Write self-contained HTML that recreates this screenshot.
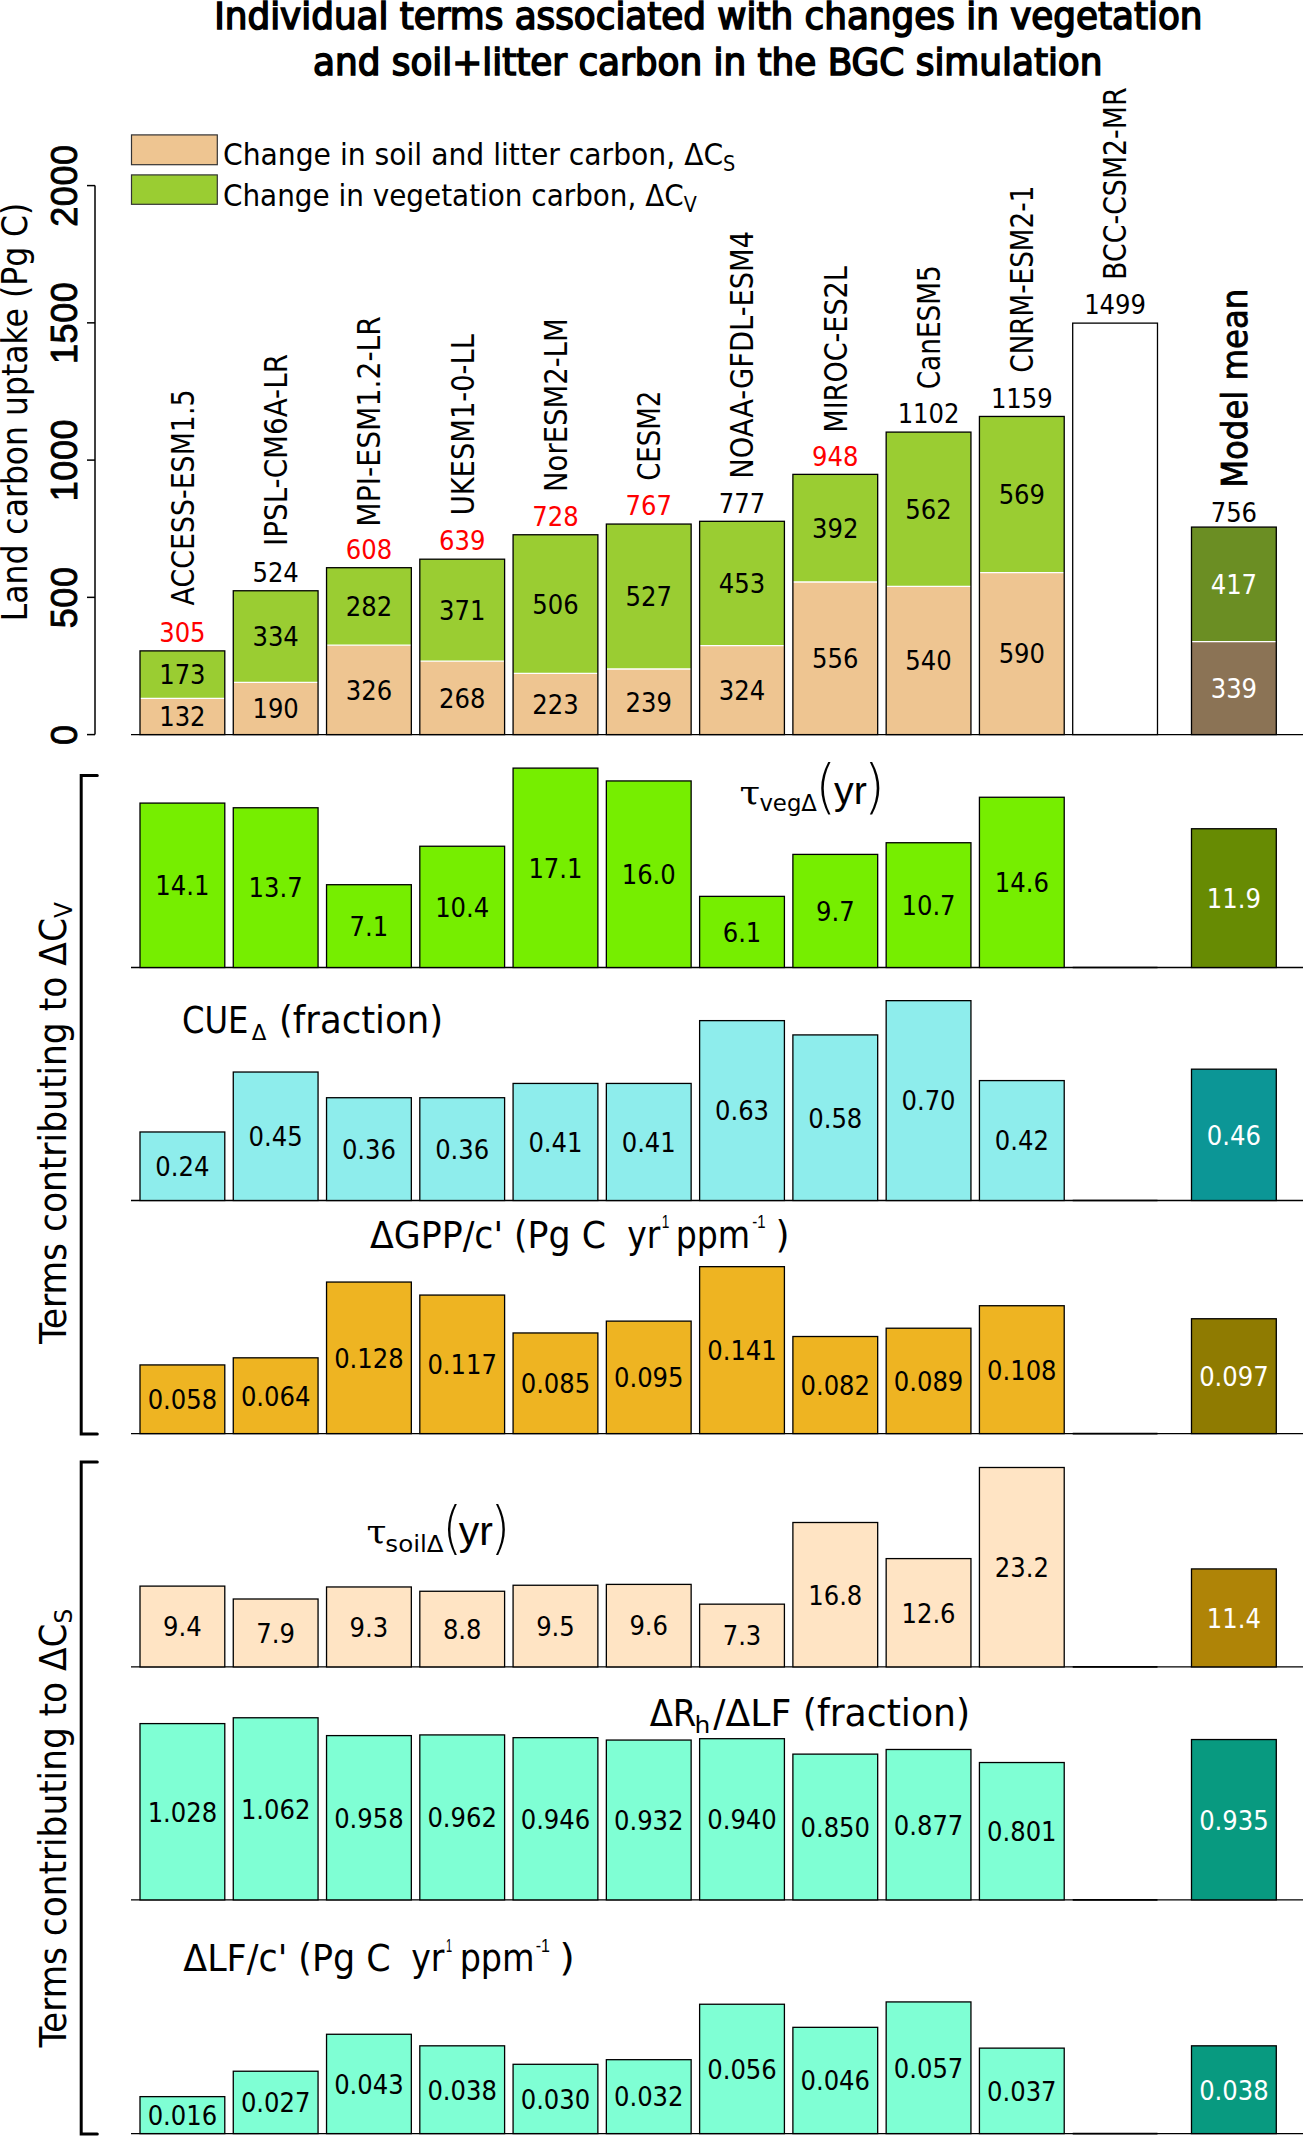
<!DOCTYPE html>
<html><head><meta charset="utf-8"><title>Individual terms associated with changes in vegetation and soil+litter carbon</title>
<style>html,body{margin:0;padding:0;background:#fff;} svg{display:block;}</style></head>
<body><svg width="1303" height="2136" viewBox="0 0 1303 2136">
<rect x="0" y="0" width="1303" height="2136" fill="#fff"/>
<text id="title1" transform="translate(214.22,28.90) scale(1,1)" x="0" y="0" fill="#000" style="font-family:'DejaVu Sans Condensed','DejaVu Sans',sans-serif;font-stretch:condensed;font-size:37.6px;font-weight:normal;stroke:#000;stroke-width:1.5px" textLength="988.31" lengthAdjust="spacingAndGlyphs">Individual terms associated with changes in vegetation</text>
<text id="title2" transform="translate(312.98,75.10) scale(1,1)" x="0" y="0" fill="#000" style="font-family:'DejaVu Sans Condensed','DejaVu Sans',sans-serif;font-stretch:condensed;font-size:37.6px;font-weight:normal;stroke:#000;stroke-width:1.5px" textLength="789.52" lengthAdjust="spacingAndGlyphs">and soil+litter carbon in the BGC simulation</text>
<line x1="131.00" y1="734.60" x2="1303.00" y2="734.60" stroke="#000" stroke-width="1.3" stroke-linecap="butt"/>
<rect x="140.00" y="698.37" width="84.79" height="36.23" fill="#EEC591"/>
<rect x="140.00" y="650.88" width="84.79" height="47.49" fill="#9ACD32"/>
<line x1="140.00" y1="698.37" x2="224.79" y2="698.37" stroke="#fff" stroke-width="1.3" stroke-linecap="butt"/>
<rect x="140.00" y="650.88" width="84.79" height="83.72" fill="none" stroke="#000" stroke-width="1.3"/>
<text x="182.40" y="726.32" text-anchor="middle" fill="#000" style="font-family:'DejaVu Sans Condensed','DejaVu Sans',sans-serif;font-stretch:condensed;font-size:27.0px" textLength="46.36" lengthAdjust="spacingAndGlyphs">132</text>
<text x="182.40" y="684.46" text-anchor="middle" fill="#000" style="font-family:'DejaVu Sans Condensed','DejaVu Sans',sans-serif;font-stretch:condensed;font-size:27.0px" textLength="46.36" lengthAdjust="spacingAndGlyphs">173</text>
<text x="182.40" y="642.18" text-anchor="middle" fill="#FF0000" style="font-family:'DejaVu Sans Condensed','DejaVu Sans',sans-serif;font-stretch:condensed;font-size:27.0px" textLength="46.36" lengthAdjust="spacingAndGlyphs">305</text>
<rect x="233.27" y="682.45" width="84.79" height="52.15" fill="#EEC591"/>
<rect x="233.27" y="590.76" width="84.79" height="91.68" fill="#9ACD32"/>
<line x1="233.27" y1="682.45" x2="318.06" y2="682.45" stroke="#fff" stroke-width="1.3" stroke-linecap="butt"/>
<rect x="233.27" y="590.76" width="84.79" height="143.84" fill="none" stroke="#000" stroke-width="1.3"/>
<text x="275.66" y="718.36" text-anchor="middle" fill="#000" style="font-family:'DejaVu Sans Condensed','DejaVu Sans',sans-serif;font-stretch:condensed;font-size:27.0px" textLength="46.36" lengthAdjust="spacingAndGlyphs">190</text>
<text x="275.66" y="646.44" text-anchor="middle" fill="#000" style="font-family:'DejaVu Sans Condensed','DejaVu Sans',sans-serif;font-stretch:condensed;font-size:27.0px" textLength="46.36" lengthAdjust="spacingAndGlyphs">334</text>
<text x="275.66" y="582.06" text-anchor="middle" fill="#000" style="font-family:'DejaVu Sans Condensed','DejaVu Sans',sans-serif;font-stretch:condensed;font-size:27.0px" textLength="46.36" lengthAdjust="spacingAndGlyphs">524</text>
<rect x="326.54" y="645.11" width="84.79" height="89.49" fill="#EEC591"/>
<rect x="326.54" y="567.70" width="84.79" height="77.41" fill="#9ACD32"/>
<line x1="326.54" y1="645.11" x2="411.33" y2="645.11" stroke="#fff" stroke-width="1.3" stroke-linecap="butt"/>
<rect x="326.54" y="567.70" width="84.79" height="166.90" fill="none" stroke="#000" stroke-width="1.3"/>
<text x="368.93" y="699.70" text-anchor="middle" fill="#000" style="font-family:'DejaVu Sans Condensed','DejaVu Sans',sans-serif;font-stretch:condensed;font-size:27.0px" textLength="46.36" lengthAdjust="spacingAndGlyphs">326</text>
<text x="368.93" y="616.25" text-anchor="middle" fill="#000" style="font-family:'DejaVu Sans Condensed','DejaVu Sans',sans-serif;font-stretch:condensed;font-size:27.0px" textLength="46.36" lengthAdjust="spacingAndGlyphs">282</text>
<text x="368.93" y="559.00" text-anchor="middle" fill="#FF0000" style="font-family:'DejaVu Sans Condensed','DejaVu Sans',sans-serif;font-stretch:condensed;font-size:27.0px" textLength="46.36" lengthAdjust="spacingAndGlyphs">608</text>
<rect x="419.81" y="661.03" width="84.79" height="73.57" fill="#EEC591"/>
<rect x="419.81" y="559.19" width="84.79" height="101.84" fill="#9ACD32"/>
<line x1="419.81" y1="661.03" x2="504.60" y2="661.03" stroke="#fff" stroke-width="1.3" stroke-linecap="butt"/>
<rect x="419.81" y="559.19" width="84.79" height="175.41" fill="none" stroke="#000" stroke-width="1.3"/>
<text x="462.20" y="707.66" text-anchor="middle" fill="#000" style="font-family:'DejaVu Sans Condensed','DejaVu Sans',sans-serif;font-stretch:condensed;font-size:27.0px" textLength="46.36" lengthAdjust="spacingAndGlyphs">268</text>
<text x="462.20" y="619.96" text-anchor="middle" fill="#000" style="font-family:'DejaVu Sans Condensed','DejaVu Sans',sans-serif;font-stretch:condensed;font-size:27.0px" textLength="46.36" lengthAdjust="spacingAndGlyphs">371</text>
<text x="462.20" y="550.49" text-anchor="middle" fill="#FF0000" style="font-family:'DejaVu Sans Condensed','DejaVu Sans',sans-serif;font-stretch:condensed;font-size:27.0px" textLength="46.36" lengthAdjust="spacingAndGlyphs">639</text>
<rect x="513.08" y="673.39" width="84.79" height="61.21" fill="#EEC591"/>
<rect x="513.08" y="534.76" width="84.79" height="138.62" fill="#9ACD32"/>
<line x1="513.08" y1="673.39" x2="597.87" y2="673.39" stroke="#fff" stroke-width="1.3" stroke-linecap="butt"/>
<rect x="513.08" y="534.76" width="84.79" height="199.84" fill="none" stroke="#000" stroke-width="1.3"/>
<text x="555.47" y="713.83" text-anchor="middle" fill="#000" style="font-family:'DejaVu Sans Condensed','DejaVu Sans',sans-serif;font-stretch:condensed;font-size:27.0px" textLength="46.36" lengthAdjust="spacingAndGlyphs">223</text>
<text x="555.47" y="613.92" text-anchor="middle" fill="#000" style="font-family:'DejaVu Sans Condensed','DejaVu Sans',sans-serif;font-stretch:condensed;font-size:27.0px" textLength="46.36" lengthAdjust="spacingAndGlyphs">506</text>
<text x="555.47" y="526.06" text-anchor="middle" fill="#FF0000" style="font-family:'DejaVu Sans Condensed','DejaVu Sans',sans-serif;font-stretch:condensed;font-size:27.0px" textLength="46.36" lengthAdjust="spacingAndGlyphs">728</text>
<rect x="606.35" y="668.99" width="84.79" height="65.61" fill="#EEC591"/>
<rect x="606.35" y="524.06" width="84.79" height="144.94" fill="#9ACD32"/>
<line x1="606.35" y1="668.99" x2="691.14" y2="668.99" stroke="#fff" stroke-width="1.3" stroke-linecap="butt"/>
<rect x="606.35" y="524.06" width="84.79" height="210.54" fill="none" stroke="#000" stroke-width="1.3"/>
<text x="648.74" y="711.64" text-anchor="middle" fill="#000" style="font-family:'DejaVu Sans Condensed','DejaVu Sans',sans-serif;font-stretch:condensed;font-size:27.0px" textLength="46.36" lengthAdjust="spacingAndGlyphs">239</text>
<text x="648.74" y="606.37" text-anchor="middle" fill="#000" style="font-family:'DejaVu Sans Condensed','DejaVu Sans',sans-serif;font-stretch:condensed;font-size:27.0px" textLength="46.36" lengthAdjust="spacingAndGlyphs">527</text>
<text x="648.74" y="515.36" text-anchor="middle" fill="#FF0000" style="font-family:'DejaVu Sans Condensed','DejaVu Sans',sans-serif;font-stretch:condensed;font-size:27.0px" textLength="46.36" lengthAdjust="spacingAndGlyphs">767</text>
<rect x="699.62" y="645.66" width="84.79" height="88.94" fill="#EEC591"/>
<rect x="699.62" y="521.31" width="84.79" height="124.35" fill="#9ACD32"/>
<line x1="699.62" y1="645.66" x2="784.41" y2="645.66" stroke="#fff" stroke-width="1.3" stroke-linecap="butt"/>
<rect x="699.62" y="521.31" width="84.79" height="213.29" fill="none" stroke="#000" stroke-width="1.3"/>
<text x="742.01" y="699.97" text-anchor="middle" fill="#000" style="font-family:'DejaVu Sans Condensed','DejaVu Sans',sans-serif;font-stretch:condensed;font-size:27.0px" textLength="46.36" lengthAdjust="spacingAndGlyphs">324</text>
<text x="742.01" y="593.33" text-anchor="middle" fill="#000" style="font-family:'DejaVu Sans Condensed','DejaVu Sans',sans-serif;font-stretch:condensed;font-size:27.0px" textLength="46.36" lengthAdjust="spacingAndGlyphs">453</text>
<text x="742.01" y="512.61" text-anchor="middle" fill="#000" style="font-family:'DejaVu Sans Condensed','DejaVu Sans',sans-serif;font-stretch:condensed;font-size:27.0px" textLength="46.36" lengthAdjust="spacingAndGlyphs">777</text>
<rect x="792.89" y="581.98" width="84.79" height="152.62" fill="#EEC591"/>
<rect x="792.89" y="474.37" width="84.79" height="107.60" fill="#9ACD32"/>
<line x1="792.89" y1="581.98" x2="877.68" y2="581.98" stroke="#fff" stroke-width="1.3" stroke-linecap="butt"/>
<rect x="792.89" y="474.37" width="84.79" height="260.23" fill="none" stroke="#000" stroke-width="1.3"/>
<text x="835.28" y="668.13" text-anchor="middle" fill="#000" style="font-family:'DejaVu Sans Condensed','DejaVu Sans',sans-serif;font-stretch:condensed;font-size:27.0px" textLength="46.36" lengthAdjust="spacingAndGlyphs">556</text>
<text x="835.28" y="538.02" text-anchor="middle" fill="#000" style="font-family:'DejaVu Sans Condensed','DejaVu Sans',sans-serif;font-stretch:condensed;font-size:27.0px" textLength="46.36" lengthAdjust="spacingAndGlyphs">392</text>
<text x="835.28" y="465.67" text-anchor="middle" fill="#FF0000" style="font-family:'DejaVu Sans Condensed','DejaVu Sans',sans-serif;font-stretch:condensed;font-size:27.0px" textLength="46.36" lengthAdjust="spacingAndGlyphs">948</text>
<rect x="886.16" y="586.37" width="84.79" height="148.23" fill="#EEC591"/>
<rect x="886.16" y="432.10" width="84.79" height="154.27" fill="#9ACD32"/>
<line x1="886.16" y1="586.37" x2="970.95" y2="586.37" stroke="#fff" stroke-width="1.3" stroke-linecap="butt"/>
<rect x="886.16" y="432.10" width="84.79" height="302.50" fill="none" stroke="#000" stroke-width="1.3"/>
<text x="928.55" y="670.33" text-anchor="middle" fill="#000" style="font-family:'DejaVu Sans Condensed','DejaVu Sans',sans-serif;font-stretch:condensed;font-size:27.0px" textLength="46.36" lengthAdjust="spacingAndGlyphs">540</text>
<text x="928.55" y="519.08" text-anchor="middle" fill="#000" style="font-family:'DejaVu Sans Condensed','DejaVu Sans',sans-serif;font-stretch:condensed;font-size:27.0px" textLength="46.36" lengthAdjust="spacingAndGlyphs">562</text>
<text x="928.55" y="423.40" text-anchor="middle" fill="#000" style="font-family:'DejaVu Sans Condensed','DejaVu Sans',sans-serif;font-stretch:condensed;font-size:27.0px" textLength="61.81" lengthAdjust="spacingAndGlyphs">1102</text>
<rect x="979.43" y="572.64" width="84.79" height="161.96" fill="#EEC591"/>
<rect x="979.43" y="416.45" width="84.79" height="156.19" fill="#9ACD32"/>
<line x1="979.43" y1="572.64" x2="1064.22" y2="572.64" stroke="#fff" stroke-width="1.3" stroke-linecap="butt"/>
<rect x="979.43" y="416.45" width="84.79" height="318.15" fill="none" stroke="#000" stroke-width="1.3"/>
<text x="1021.82" y="663.46" text-anchor="middle" fill="#000" style="font-family:'DejaVu Sans Condensed','DejaVu Sans',sans-serif;font-stretch:condensed;font-size:27.0px" textLength="46.36" lengthAdjust="spacingAndGlyphs">590</text>
<text x="1021.82" y="504.39" text-anchor="middle" fill="#000" style="font-family:'DejaVu Sans Condensed','DejaVu Sans',sans-serif;font-stretch:condensed;font-size:27.0px" textLength="46.36" lengthAdjust="spacingAndGlyphs">569</text>
<text x="1021.82" y="407.75" text-anchor="middle" fill="#000" style="font-family:'DejaVu Sans Condensed','DejaVu Sans',sans-serif;font-stretch:condensed;font-size:27.0px" textLength="61.81" lengthAdjust="spacingAndGlyphs">1159</text>
<rect x="1072.70" y="323.12" width="84.79" height="411.48" fill="#fff" stroke="#000" stroke-width="1.3"/>
<text x="1115.09" y="314.42" text-anchor="middle" fill="#000" style="font-family:'DejaVu Sans Condensed','DejaVu Sans',sans-serif;font-stretch:condensed;font-size:27.0px" textLength="61.81" lengthAdjust="spacingAndGlyphs">1499</text>
<rect x="1191.50" y="641.54" width="84.79" height="93.06" fill="#8B7355"/>
<rect x="1191.50" y="527.08" width="84.79" height="114.47" fill="#6B8E23"/>
<line x1="1191.50" y1="641.54" x2="1276.29" y2="641.54" stroke="#fff" stroke-width="1.3" stroke-linecap="butt"/>
<rect x="1191.50" y="527.08" width="84.79" height="207.52" fill="none" stroke="#000" stroke-width="1.3"/>
<text x="1233.89" y="697.91" text-anchor="middle" fill="#fff" style="font-family:'DejaVu Sans Condensed','DejaVu Sans',sans-serif;font-stretch:condensed;font-size:27.0px" textLength="46.36" lengthAdjust="spacingAndGlyphs">339</text>
<text x="1233.89" y="594.15" text-anchor="middle" fill="#fff" style="font-family:'DejaVu Sans Condensed','DejaVu Sans',sans-serif;font-stretch:condensed;font-size:27.0px" textLength="46.36" lengthAdjust="spacingAndGlyphs">417</text>
<text x="1233.89" y="522.48" text-anchor="middle" fill="#000" style="font-family:'DejaVu Sans Condensed','DejaVu Sans',sans-serif;font-stretch:condensed;font-size:27.0px" textLength="46.36" lengthAdjust="spacingAndGlyphs">756</text>
<text id="name0" transform="translate(193.73,605.39) rotate(-90) scale(1,1)" x="0" y="0" fill="#000" style="font-family:'DejaVu Sans Condensed','DejaVu Sans',sans-serif;font-stretch:condensed;font-size:31.1px;font-weight:normal" textLength="215.88" lengthAdjust="spacingAndGlyphs">ACCESS-ESM1.5</text>
<text id="name1" transform="translate(287.00,545.98) rotate(-90) scale(1,1)" x="0" y="0" fill="#000" style="font-family:'DejaVu Sans Condensed','DejaVu Sans',sans-serif;font-stretch:condensed;font-size:31.1px;font-weight:normal" textLength="191.94" lengthAdjust="spacingAndGlyphs">IPSL-CM6A-LR</text>
<text id="name2" transform="translate(380.27,526.63) rotate(-90) scale(1,1)" x="0" y="0" fill="#000" style="font-family:'DejaVu Sans Condensed','DejaVu Sans',sans-serif;font-stretch:condensed;font-size:31.1px;font-weight:normal" textLength="210.59" lengthAdjust="spacingAndGlyphs">MPI-ESM1.2-LR</text>
<text id="name3" transform="translate(473.54,515.35) rotate(-90) scale(1,1)" x="0" y="0" fill="#000" style="font-family:'DejaVu Sans Condensed','DejaVu Sans',sans-serif;font-stretch:condensed;font-size:31.1px;font-weight:normal" textLength="181.26" lengthAdjust="spacingAndGlyphs">UKESM1-0-LL</text>
<text id="name4" transform="translate(566.81,491.96) rotate(-90) scale(1,1)" x="0" y="0" fill="#000" style="font-family:'DejaVu Sans Condensed','DejaVu Sans',sans-serif;font-stretch:condensed;font-size:31.1px;font-weight:normal" textLength="173.57" lengthAdjust="spacingAndGlyphs">NorESM2-LM</text>
<text id="name5" transform="translate(660.08,480.87) rotate(-90) scale(1,1)" x="0" y="0" fill="#000" style="font-family:'DejaVu Sans Condensed','DejaVu Sans',sans-serif;font-stretch:condensed;font-size:31.1px;font-weight:normal" textLength="90.08" lengthAdjust="spacingAndGlyphs">CESM2</text>
<text id="name6" transform="translate(753.35,478.73) rotate(-90) scale(1,1)" x="0" y="0" fill="#000" style="font-family:'DejaVu Sans Condensed','DejaVu Sans',sans-serif;font-stretch:condensed;font-size:31.1px;font-weight:normal" textLength="247.75" lengthAdjust="spacingAndGlyphs">NOAA-GFDL-ESM4</text>
<text id="name7" transform="translate(846.62,432.71) rotate(-90) scale(1,1)" x="0" y="0" fill="#000" style="font-family:'DejaVu Sans Condensed','DejaVu Sans',sans-serif;font-stretch:condensed;font-size:31.1px;font-weight:normal" textLength="166.60" lengthAdjust="spacingAndGlyphs">MIROC-ES2L</text>
<text id="name8" transform="translate(939.89,389.28) rotate(-90) scale(1,1)" x="0" y="0" fill="#000" style="font-family:'DejaVu Sans Condensed','DejaVu Sans',sans-serif;font-stretch:condensed;font-size:31.1px;font-weight:normal" textLength="124.01" lengthAdjust="spacingAndGlyphs">CanESM5</text>
<text id="name9" transform="translate(1033.16,372.70) rotate(-90) scale(1,1)" x="0" y="0" fill="#000" style="font-family:'DejaVu Sans Condensed','DejaVu Sans',sans-serif;font-stretch:condensed;font-size:31.1px;font-weight:normal" textLength="187.06" lengthAdjust="spacingAndGlyphs">CNRM-ESM2-1</text>
<text id="name10" transform="translate(1126.43,279.89) rotate(-90) scale(1,1)" x="0" y="0" fill="#000" style="font-family:'DejaVu Sans Condensed','DejaVu Sans',sans-serif;font-stretch:condensed;font-size:31.1px;font-weight:normal" textLength="192.44" lengthAdjust="spacingAndGlyphs">BCC-CSM2-MR</text>
<text id="name11" transform="translate(1246.70,487.84) rotate(-90) scale(1,1)" x="0" y="0" fill="#000" stroke="#000" stroke-width="0.8" style="font-family:'DejaVu Sans Condensed','DejaVu Sans',sans-serif;font-stretch:condensed;font-size:35.8px;font-weight:normal" textLength="199.16" lengthAdjust="spacingAndGlyphs">Model mean</text>
<line x1="95.00" y1="185.60" x2="95.00" y2="734.60" stroke="#000" stroke-width="1.5" stroke-linecap="butt"/>
<line x1="87.00" y1="734.60" x2="95.00" y2="734.60" stroke="#000" stroke-width="1.5" stroke-linecap="butt"/>
<text transform="translate(77.2,734.60) rotate(-90)" x="0" y="0" text-anchor="middle" stroke="#000" stroke-width="0.9" style="font-family:'Liberation Sans',Arial,sans-serif;font-size:36px;letter-spacing:0.6px" textLength="20.62" lengthAdjust="spacingAndGlyphs">0</text>
<line x1="87.00" y1="597.35" x2="95.00" y2="597.35" stroke="#000" stroke-width="1.5" stroke-linecap="butt"/>
<text transform="translate(77.2,597.35) rotate(-90)" x="0" y="0" text-anchor="middle" stroke="#000" stroke-width="0.9" style="font-family:'Liberation Sans',Arial,sans-serif;font-size:36px;letter-spacing:0.6px" textLength="61.88" lengthAdjust="spacingAndGlyphs">500</text>
<line x1="87.00" y1="460.10" x2="95.00" y2="460.10" stroke="#000" stroke-width="1.5" stroke-linecap="butt"/>
<text transform="translate(77.2,460.10) rotate(-90)" x="0" y="0" text-anchor="middle" stroke="#000" stroke-width="0.9" style="font-family:'Liberation Sans',Arial,sans-serif;font-size:36px;letter-spacing:0.6px" textLength="82.50" lengthAdjust="spacingAndGlyphs">1000</text>
<line x1="87.00" y1="322.85" x2="95.00" y2="322.85" stroke="#000" stroke-width="1.5" stroke-linecap="butt"/>
<text transform="translate(77.2,322.85) rotate(-90)" x="0" y="0" text-anchor="middle" stroke="#000" stroke-width="0.9" style="font-family:'Liberation Sans',Arial,sans-serif;font-size:36px;letter-spacing:0.6px" textLength="82.50" lengthAdjust="spacingAndGlyphs">1500</text>
<line x1="87.00" y1="185.60" x2="95.00" y2="185.60" stroke="#000" stroke-width="1.5" stroke-linecap="butt"/>
<text transform="translate(77.2,185.60) rotate(-90)" x="0" y="0" text-anchor="middle" stroke="#000" stroke-width="0.9" style="font-family:'Liberation Sans',Arial,sans-serif;font-size:36px;letter-spacing:0.6px" textLength="82.50" lengthAdjust="spacingAndGlyphs">2000</text>
<text id="ytitle" transform="translate(27.00,621.34) rotate(-90) scale(1,1)" x="0" y="0" fill="#000" style="font-family:'DejaVu Sans Condensed','DejaVu Sans',sans-serif;font-stretch:condensed;font-size:35.7px;font-weight:normal" textLength="418.71" lengthAdjust="spacingAndGlyphs">Land carbon uptake (Pg C)</text>
<rect x="131.50" y="134.90" width="85.80" height="29.80" fill="#EEC591" stroke="#333" stroke-width="1.2"/>
<rect x="131.50" y="174.90" width="85.80" height="29.40" fill="#9ACD32" stroke="#333" stroke-width="1.2"/>
<text id="leg1" transform="translate(222.95,164.60) scale(1,1)" x="0" y="0" fill="#000" style="font-family:'DejaVu Sans Condensed','DejaVu Sans',sans-serif;font-stretch:condensed;font-size:30.7px;font-weight:normal" textLength="512.44" lengthAdjust="spacingAndGlyphs">Change in soil and litter carbon, ΔC<tspan dy="6" style="font-size:21px">S</tspan></text>
<text id="leg2" transform="translate(222.97,206.00) scale(1,1)" x="0" y="0" fill="#000" style="font-family:'DejaVu Sans Condensed','DejaVu Sans',sans-serif;font-stretch:condensed;font-size:30.7px;font-weight:normal" textLength="473.77" lengthAdjust="spacingAndGlyphs">Change in vegetation carbon, ΔC<tspan dy="6" style="font-size:21px">V</tspan></text>
<line x1="131.00" y1="967.50" x2="1303.00" y2="967.50" stroke="#000" stroke-width="1.3" stroke-linecap="butt"/>
<line x1="1072.70" y1="967.50" x2="1157.49" y2="967.50" stroke="#000" stroke-width="1.6" stroke-linecap="butt"/>
<rect x="140.00" y="803.09" width="84.79" height="164.41" fill="#76EE00" stroke="#000" stroke-width="1.3"/>
<text x="182.40" y="895.14" text-anchor="middle" fill="#000" style="font-family:'DejaVu Sans Condensed','DejaVu Sans',sans-serif;font-stretch:condensed;font-size:27.0px" textLength="54.08" lengthAdjust="spacingAndGlyphs">14.1</text>
<rect x="233.27" y="807.76" width="84.79" height="159.74" fill="#76EE00" stroke="#000" stroke-width="1.3"/>
<text x="275.66" y="897.47" text-anchor="middle" fill="#000" style="font-family:'DejaVu Sans Condensed','DejaVu Sans',sans-serif;font-stretch:condensed;font-size:27.0px" textLength="54.08" lengthAdjust="spacingAndGlyphs">13.7</text>
<rect x="326.54" y="884.71" width="84.79" height="82.79" fill="#76EE00" stroke="#000" stroke-width="1.3"/>
<text x="368.93" y="935.95" text-anchor="middle" fill="#000" style="font-family:'DejaVu Sans Condensed','DejaVu Sans',sans-serif;font-stretch:condensed;font-size:27.0px" textLength="38.62" lengthAdjust="spacingAndGlyphs">7.1</text>
<rect x="419.81" y="846.24" width="84.79" height="121.26" fill="#76EE00" stroke="#000" stroke-width="1.3"/>
<text x="462.20" y="916.71" text-anchor="middle" fill="#000" style="font-family:'DejaVu Sans Condensed','DejaVu Sans',sans-serif;font-stretch:condensed;font-size:27.0px" textLength="54.08" lengthAdjust="spacingAndGlyphs">10.4</text>
<rect x="513.08" y="768.11" width="84.79" height="199.39" fill="#76EE00" stroke="#000" stroke-width="1.3"/>
<text x="555.47" y="877.65" text-anchor="middle" fill="#000" style="font-family:'DejaVu Sans Condensed','DejaVu Sans',sans-serif;font-stretch:condensed;font-size:27.0px" textLength="54.08" lengthAdjust="spacingAndGlyphs">17.1</text>
<rect x="606.35" y="780.94" width="84.79" height="186.56" fill="#76EE00" stroke="#000" stroke-width="1.3"/>
<text x="648.74" y="884.06" text-anchor="middle" fill="#000" style="font-family:'DejaVu Sans Condensed','DejaVu Sans',sans-serif;font-stretch:condensed;font-size:27.0px" textLength="54.08" lengthAdjust="spacingAndGlyphs">16.0</text>
<rect x="699.62" y="896.37" width="84.79" height="71.13" fill="#76EE00" stroke="#000" stroke-width="1.3"/>
<text x="742.01" y="941.78" text-anchor="middle" fill="#000" style="font-family:'DejaVu Sans Condensed','DejaVu Sans',sans-serif;font-stretch:condensed;font-size:27.0px" textLength="38.62" lengthAdjust="spacingAndGlyphs">6.1</text>
<rect x="792.89" y="854.40" width="84.79" height="113.10" fill="#76EE00" stroke="#000" stroke-width="1.3"/>
<text x="835.28" y="920.79" text-anchor="middle" fill="#000" style="font-family:'DejaVu Sans Condensed','DejaVu Sans',sans-serif;font-stretch:condensed;font-size:27.0px" textLength="38.62" lengthAdjust="spacingAndGlyphs">9.7</text>
<rect x="886.16" y="842.74" width="84.79" height="124.76" fill="#76EE00" stroke="#000" stroke-width="1.3"/>
<text x="928.55" y="914.96" text-anchor="middle" fill="#000" style="font-family:'DejaVu Sans Condensed','DejaVu Sans',sans-serif;font-stretch:condensed;font-size:27.0px" textLength="54.08" lengthAdjust="spacingAndGlyphs">10.7</text>
<rect x="979.43" y="797.26" width="84.79" height="170.24" fill="#76EE00" stroke="#000" stroke-width="1.3"/>
<text x="1021.82" y="892.22" text-anchor="middle" fill="#000" style="font-family:'DejaVu Sans Condensed','DejaVu Sans',sans-serif;font-stretch:condensed;font-size:27.0px" textLength="54.08" lengthAdjust="spacingAndGlyphs">14.6</text>
<rect x="1191.50" y="828.75" width="84.79" height="138.75" fill="#678B03" stroke="#000" stroke-width="1.3"/>
<text x="1233.89" y="907.96" text-anchor="middle" fill="#fff" style="font-family:'DejaVu Sans Condensed','DejaVu Sans',sans-serif;font-stretch:condensed;font-size:27.0px" textLength="54.08" lengthAdjust="spacingAndGlyphs">11.9</text>
<line x1="131.00" y1="1200.50" x2="1303.00" y2="1200.50" stroke="#000" stroke-width="1.3" stroke-linecap="butt"/>
<line x1="1072.70" y1="1200.50" x2="1157.49" y2="1200.50" stroke="#000" stroke-width="1.6" stroke-linecap="butt"/>
<rect x="140.00" y="1131.98" width="84.79" height="68.52" fill="#8EEDEC" stroke="#000" stroke-width="1.3"/>
<text x="182.40" y="1176.08" text-anchor="middle" fill="#000" style="font-family:'DejaVu Sans Condensed','DejaVu Sans',sans-serif;font-stretch:condensed;font-size:27.0px" textLength="54.08" lengthAdjust="spacingAndGlyphs">0.24</text>
<rect x="233.27" y="1072.03" width="84.79" height="128.47" fill="#8EEDEC" stroke="#000" stroke-width="1.3"/>
<text x="275.66" y="1146.10" text-anchor="middle" fill="#000" style="font-family:'DejaVu Sans Condensed','DejaVu Sans',sans-serif;font-stretch:condensed;font-size:27.0px" textLength="54.08" lengthAdjust="spacingAndGlyphs">0.45</text>
<rect x="326.54" y="1097.72" width="84.79" height="102.78" fill="#8EEDEC" stroke="#000" stroke-width="1.3"/>
<text x="368.93" y="1158.95" text-anchor="middle" fill="#000" style="font-family:'DejaVu Sans Condensed','DejaVu Sans',sans-serif;font-stretch:condensed;font-size:27.0px" textLength="54.08" lengthAdjust="spacingAndGlyphs">0.36</text>
<rect x="419.81" y="1097.72" width="84.79" height="102.78" fill="#8EEDEC" stroke="#000" stroke-width="1.3"/>
<text x="462.20" y="1158.95" text-anchor="middle" fill="#000" style="font-family:'DejaVu Sans Condensed','DejaVu Sans',sans-serif;font-stretch:condensed;font-size:27.0px" textLength="54.08" lengthAdjust="spacingAndGlyphs">0.36</text>
<rect x="513.08" y="1083.44" width="84.79" height="117.06" fill="#8EEDEC" stroke="#000" stroke-width="1.3"/>
<text x="555.47" y="1151.81" text-anchor="middle" fill="#000" style="font-family:'DejaVu Sans Condensed','DejaVu Sans',sans-serif;font-stretch:condensed;font-size:27.0px" textLength="54.08" lengthAdjust="spacingAndGlyphs">0.41</text>
<rect x="606.35" y="1083.44" width="84.79" height="117.06" fill="#8EEDEC" stroke="#000" stroke-width="1.3"/>
<text x="648.74" y="1151.81" text-anchor="middle" fill="#000" style="font-family:'DejaVu Sans Condensed','DejaVu Sans',sans-serif;font-stretch:condensed;font-size:27.0px" textLength="54.08" lengthAdjust="spacingAndGlyphs">0.41</text>
<rect x="699.62" y="1020.63" width="84.79" height="179.87" fill="#8EEDEC" stroke="#000" stroke-width="1.3"/>
<text x="742.01" y="1120.41" text-anchor="middle" fill="#000" style="font-family:'DejaVu Sans Condensed','DejaVu Sans',sans-serif;font-stretch:condensed;font-size:27.0px" textLength="54.08" lengthAdjust="spacingAndGlyphs">0.63</text>
<rect x="792.89" y="1034.91" width="84.79" height="165.59" fill="#8EEDEC" stroke="#000" stroke-width="1.3"/>
<text x="835.28" y="1127.55" text-anchor="middle" fill="#000" style="font-family:'DejaVu Sans Condensed','DejaVu Sans',sans-serif;font-stretch:condensed;font-size:27.0px" textLength="54.08" lengthAdjust="spacingAndGlyphs">0.58</text>
<rect x="886.16" y="1000.65" width="84.79" height="199.85" fill="#8EEDEC" stroke="#000" stroke-width="1.3"/>
<text x="928.55" y="1110.42" text-anchor="middle" fill="#000" style="font-family:'DejaVu Sans Condensed','DejaVu Sans',sans-serif;font-stretch:condensed;font-size:27.0px" textLength="54.08" lengthAdjust="spacingAndGlyphs">0.70</text>
<rect x="979.43" y="1080.59" width="84.79" height="119.91" fill="#8EEDEC" stroke="#000" stroke-width="1.3"/>
<text x="1021.82" y="1150.39" text-anchor="middle" fill="#000" style="font-family:'DejaVu Sans Condensed','DejaVu Sans',sans-serif;font-stretch:condensed;font-size:27.0px" textLength="54.08" lengthAdjust="spacingAndGlyphs">0.42</text>
<rect x="1191.50" y="1069.17" width="84.79" height="131.33" fill="#0C9696" stroke="#000" stroke-width="1.3"/>
<text x="1233.89" y="1144.68" text-anchor="middle" fill="#fff" style="font-family:'DejaVu Sans Condensed','DejaVu Sans',sans-serif;font-stretch:condensed;font-size:27.0px" textLength="54.08" lengthAdjust="spacingAndGlyphs">0.46</text>
<line x1="131.00" y1="1433.60" x2="1303.00" y2="1433.60" stroke="#000" stroke-width="1.3" stroke-linecap="butt"/>
<line x1="1072.70" y1="1433.60" x2="1157.49" y2="1433.60" stroke="#000" stroke-width="1.6" stroke-linecap="butt"/>
<rect x="140.00" y="1364.93" width="84.79" height="68.67" fill="#EEB422" stroke="#000" stroke-width="1.3"/>
<text x="182.40" y="1409.11" text-anchor="middle" fill="#000" style="font-family:'DejaVu Sans Condensed','DejaVu Sans',sans-serif;font-stretch:condensed;font-size:27.0px" textLength="69.53" lengthAdjust="spacingAndGlyphs">0.058</text>
<rect x="233.27" y="1357.82" width="84.79" height="75.78" fill="#EEB422" stroke="#000" stroke-width="1.3"/>
<text x="275.66" y="1405.55" text-anchor="middle" fill="#000" style="font-family:'DejaVu Sans Condensed','DejaVu Sans',sans-serif;font-stretch:condensed;font-size:27.0px" textLength="69.53" lengthAdjust="spacingAndGlyphs">0.064</text>
<rect x="326.54" y="1282.05" width="84.79" height="151.55" fill="#EEB422" stroke="#000" stroke-width="1.3"/>
<text x="368.93" y="1367.67" text-anchor="middle" fill="#000" style="font-family:'DejaVu Sans Condensed','DejaVu Sans',sans-serif;font-stretch:condensed;font-size:27.0px" textLength="69.53" lengthAdjust="spacingAndGlyphs">0.128</text>
<rect x="419.81" y="1295.07" width="84.79" height="138.53" fill="#EEB422" stroke="#000" stroke-width="1.3"/>
<text x="462.20" y="1374.18" text-anchor="middle" fill="#000" style="font-family:'DejaVu Sans Condensed','DejaVu Sans',sans-serif;font-stretch:condensed;font-size:27.0px" textLength="69.53" lengthAdjust="spacingAndGlyphs">0.117</text>
<rect x="513.08" y="1332.96" width="84.79" height="100.64" fill="#EEB422" stroke="#000" stroke-width="1.3"/>
<text x="555.47" y="1393.12" text-anchor="middle" fill="#000" style="font-family:'DejaVu Sans Condensed','DejaVu Sans',sans-serif;font-stretch:condensed;font-size:27.0px" textLength="69.53" lengthAdjust="spacingAndGlyphs">0.085</text>
<rect x="606.35" y="1321.12" width="84.79" height="112.48" fill="#EEB422" stroke="#000" stroke-width="1.3"/>
<text x="648.74" y="1387.20" text-anchor="middle" fill="#000" style="font-family:'DejaVu Sans Condensed','DejaVu Sans',sans-serif;font-stretch:condensed;font-size:27.0px" textLength="69.53" lengthAdjust="spacingAndGlyphs">0.095</text>
<rect x="699.62" y="1266.66" width="84.79" height="166.94" fill="#EEB422" stroke="#000" stroke-width="1.3"/>
<text x="742.01" y="1359.97" text-anchor="middle" fill="#000" style="font-family:'DejaVu Sans Condensed','DejaVu Sans',sans-serif;font-stretch:condensed;font-size:27.0px" textLength="69.53" lengthAdjust="spacingAndGlyphs">0.141</text>
<rect x="792.89" y="1336.51" width="84.79" height="97.09" fill="#EEB422" stroke="#000" stroke-width="1.3"/>
<text x="835.28" y="1394.90" text-anchor="middle" fill="#000" style="font-family:'DejaVu Sans Condensed','DejaVu Sans',sans-serif;font-stretch:condensed;font-size:27.0px" textLength="69.53" lengthAdjust="spacingAndGlyphs">0.082</text>
<rect x="886.16" y="1328.22" width="84.79" height="105.38" fill="#EEB422" stroke="#000" stroke-width="1.3"/>
<text x="928.55" y="1390.75" text-anchor="middle" fill="#000" style="font-family:'DejaVu Sans Condensed','DejaVu Sans',sans-serif;font-stretch:condensed;font-size:27.0px" textLength="69.53" lengthAdjust="spacingAndGlyphs">0.089</text>
<rect x="979.43" y="1305.73" width="84.79" height="127.87" fill="#EEB422" stroke="#000" stroke-width="1.3"/>
<text x="1021.82" y="1379.51" text-anchor="middle" fill="#000" style="font-family:'DejaVu Sans Condensed','DejaVu Sans',sans-serif;font-stretch:condensed;font-size:27.0px" textLength="69.53" lengthAdjust="spacingAndGlyphs">0.108</text>
<rect x="1191.50" y="1318.75" width="84.79" height="114.85" fill="#8F7B01" stroke="#000" stroke-width="1.3"/>
<text x="1233.89" y="1386.02" text-anchor="middle" fill="#fff" style="font-family:'DejaVu Sans Condensed','DejaVu Sans',sans-serif;font-stretch:condensed;font-size:27.0px" textLength="69.53" lengthAdjust="spacingAndGlyphs">0.097</text>
<line x1="131.00" y1="1666.90" x2="1303.00" y2="1666.90" stroke="#000" stroke-width="1.3" stroke-linecap="butt"/>
<line x1="1072.70" y1="1666.90" x2="1157.49" y2="1666.90" stroke="#000" stroke-width="1.6" stroke-linecap="butt"/>
<rect x="140.00" y="1586.11" width="84.79" height="80.79" fill="#FFE4C4" stroke="#000" stroke-width="1.3"/>
<text x="182.40" y="1636.35" text-anchor="middle" fill="#000" style="font-family:'DejaVu Sans Condensed','DejaVu Sans',sans-serif;font-stretch:condensed;font-size:27.0px" textLength="38.62" lengthAdjust="spacingAndGlyphs">9.4</text>
<rect x="233.27" y="1599.00" width="84.79" height="67.90" fill="#FFE4C4" stroke="#000" stroke-width="1.3"/>
<text x="275.66" y="1642.79" text-anchor="middle" fill="#000" style="font-family:'DejaVu Sans Condensed','DejaVu Sans',sans-serif;font-stretch:condensed;font-size:27.0px" textLength="38.62" lengthAdjust="spacingAndGlyphs">7.9</text>
<rect x="326.54" y="1586.97" width="84.79" height="79.93" fill="#FFE4C4" stroke="#000" stroke-width="1.3"/>
<text x="368.93" y="1636.77" text-anchor="middle" fill="#000" style="font-family:'DejaVu Sans Condensed','DejaVu Sans',sans-serif;font-stretch:condensed;font-size:27.0px" textLength="38.62" lengthAdjust="spacingAndGlyphs">9.3</text>
<rect x="419.81" y="1591.26" width="84.79" height="75.64" fill="#FFE4C4" stroke="#000" stroke-width="1.3"/>
<text x="462.20" y="1638.92" text-anchor="middle" fill="#000" style="font-family:'DejaVu Sans Condensed','DejaVu Sans',sans-serif;font-stretch:condensed;font-size:27.0px" textLength="38.62" lengthAdjust="spacingAndGlyphs">8.8</text>
<rect x="513.08" y="1585.25" width="84.79" height="81.65" fill="#FFE4C4" stroke="#000" stroke-width="1.3"/>
<text x="555.47" y="1635.92" text-anchor="middle" fill="#000" style="font-family:'DejaVu Sans Condensed','DejaVu Sans',sans-serif;font-stretch:condensed;font-size:27.0px" textLength="38.62" lengthAdjust="spacingAndGlyphs">9.5</text>
<rect x="606.35" y="1584.39" width="84.79" height="82.51" fill="#FFE4C4" stroke="#000" stroke-width="1.3"/>
<text x="648.74" y="1635.49" text-anchor="middle" fill="#000" style="font-family:'DejaVu Sans Condensed','DejaVu Sans',sans-serif;font-stretch:condensed;font-size:27.0px" textLength="38.62" lengthAdjust="spacingAndGlyphs">9.6</text>
<rect x="699.62" y="1604.16" width="84.79" height="62.74" fill="#FFE4C4" stroke="#000" stroke-width="1.3"/>
<text x="742.01" y="1645.37" text-anchor="middle" fill="#000" style="font-family:'DejaVu Sans Condensed','DejaVu Sans',sans-serif;font-stretch:condensed;font-size:27.0px" textLength="38.62" lengthAdjust="spacingAndGlyphs">7.3</text>
<rect x="792.89" y="1522.50" width="84.79" height="144.40" fill="#FFE4C4" stroke="#000" stroke-width="1.3"/>
<text x="835.28" y="1604.54" text-anchor="middle" fill="#000" style="font-family:'DejaVu Sans Condensed','DejaVu Sans',sans-serif;font-stretch:condensed;font-size:27.0px" textLength="54.08" lengthAdjust="spacingAndGlyphs">16.8</text>
<rect x="886.16" y="1558.60" width="84.79" height="108.30" fill="#FFE4C4" stroke="#000" stroke-width="1.3"/>
<text x="928.55" y="1622.59" text-anchor="middle" fill="#000" style="font-family:'DejaVu Sans Condensed','DejaVu Sans',sans-serif;font-stretch:condensed;font-size:27.0px" textLength="54.08" lengthAdjust="spacingAndGlyphs">12.6</text>
<rect x="979.43" y="1467.50" width="84.79" height="199.40" fill="#FFE4C4" stroke="#000" stroke-width="1.3"/>
<text x="1021.82" y="1577.04" text-anchor="middle" fill="#000" style="font-family:'DejaVu Sans Condensed','DejaVu Sans',sans-serif;font-stretch:condensed;font-size:27.0px" textLength="54.08" lengthAdjust="spacingAndGlyphs">23.2</text>
<rect x="1191.50" y="1568.92" width="84.79" height="97.98" fill="#AF8407" stroke="#000" stroke-width="1.3"/>
<text x="1233.89" y="1627.75" text-anchor="middle" fill="#fff" style="font-family:'DejaVu Sans Condensed','DejaVu Sans',sans-serif;font-stretch:condensed;font-size:27.0px" textLength="54.08" lengthAdjust="spacingAndGlyphs">11.4</text>
<line x1="131.00" y1="1899.90" x2="1303.00" y2="1899.90" stroke="#000" stroke-width="1.3" stroke-linecap="butt"/>
<line x1="1072.70" y1="1899.90" x2="1157.49" y2="1899.90" stroke="#000" stroke-width="1.6" stroke-linecap="butt"/>
<rect x="140.00" y="1723.60" width="84.79" height="176.30" fill="#7FFFD4" stroke="#000" stroke-width="1.3"/>
<text x="182.40" y="1821.59" text-anchor="middle" fill="#000" style="font-family:'DejaVu Sans Condensed','DejaVu Sans',sans-serif;font-stretch:condensed;font-size:27.0px" textLength="69.53" lengthAdjust="spacingAndGlyphs">1.028</text>
<rect x="233.27" y="1717.77" width="84.79" height="182.13" fill="#7FFFD4" stroke="#000" stroke-width="1.3"/>
<text x="275.66" y="1818.68" text-anchor="middle" fill="#000" style="font-family:'DejaVu Sans Condensed','DejaVu Sans',sans-serif;font-stretch:condensed;font-size:27.0px" textLength="69.53" lengthAdjust="spacingAndGlyphs">1.062</text>
<rect x="326.54" y="1735.60" width="84.79" height="164.30" fill="#7FFFD4" stroke="#000" stroke-width="1.3"/>
<text x="368.93" y="1827.59" text-anchor="middle" fill="#000" style="font-family:'DejaVu Sans Condensed','DejaVu Sans',sans-serif;font-stretch:condensed;font-size:27.0px" textLength="69.53" lengthAdjust="spacingAndGlyphs">0.958</text>
<rect x="419.81" y="1734.92" width="84.79" height="164.98" fill="#7FFFD4" stroke="#000" stroke-width="1.3"/>
<text x="462.20" y="1827.25" text-anchor="middle" fill="#000" style="font-family:'DejaVu Sans Condensed','DejaVu Sans',sans-serif;font-stretch:condensed;font-size:27.0px" textLength="69.53" lengthAdjust="spacingAndGlyphs">0.962</text>
<rect x="513.08" y="1737.66" width="84.79" height="162.24" fill="#7FFFD4" stroke="#000" stroke-width="1.3"/>
<text x="555.47" y="1828.62" text-anchor="middle" fill="#000" style="font-family:'DejaVu Sans Condensed','DejaVu Sans',sans-serif;font-stretch:condensed;font-size:27.0px" textLength="69.53" lengthAdjust="spacingAndGlyphs">0.946</text>
<rect x="606.35" y="1740.06" width="84.79" height="159.84" fill="#7FFFD4" stroke="#000" stroke-width="1.3"/>
<text x="648.74" y="1829.82" text-anchor="middle" fill="#000" style="font-family:'DejaVu Sans Condensed','DejaVu Sans',sans-serif;font-stretch:condensed;font-size:27.0px" textLength="69.53" lengthAdjust="spacingAndGlyphs">0.932</text>
<rect x="699.62" y="1738.69" width="84.79" height="161.21" fill="#7FFFD4" stroke="#000" stroke-width="1.3"/>
<text x="742.01" y="1829.14" text-anchor="middle" fill="#000" style="font-family:'DejaVu Sans Condensed','DejaVu Sans',sans-serif;font-stretch:condensed;font-size:27.0px" textLength="69.53" lengthAdjust="spacingAndGlyphs">0.940</text>
<rect x="792.89" y="1754.12" width="84.79" height="145.78" fill="#7FFFD4" stroke="#000" stroke-width="1.3"/>
<text x="835.28" y="1836.85" text-anchor="middle" fill="#000" style="font-family:'DejaVu Sans Condensed','DejaVu Sans',sans-serif;font-stretch:condensed;font-size:27.0px" textLength="69.53" lengthAdjust="spacingAndGlyphs">0.850</text>
<rect x="886.16" y="1749.49" width="84.79" height="150.41" fill="#7FFFD4" stroke="#000" stroke-width="1.3"/>
<text x="928.55" y="1834.54" text-anchor="middle" fill="#000" style="font-family:'DejaVu Sans Condensed','DejaVu Sans',sans-serif;font-stretch:condensed;font-size:27.0px" textLength="69.53" lengthAdjust="spacingAndGlyphs">0.877</text>
<rect x="979.43" y="1762.53" width="84.79" height="137.37" fill="#7FFFD4" stroke="#000" stroke-width="1.3"/>
<text x="1021.82" y="1841.06" text-anchor="middle" fill="#000" style="font-family:'DejaVu Sans Condensed','DejaVu Sans',sans-serif;font-stretch:condensed;font-size:27.0px" textLength="69.53" lengthAdjust="spacingAndGlyphs">0.801</text>
<rect x="1191.50" y="1739.55" width="84.79" height="160.35" fill="#089A80" stroke="#000" stroke-width="1.3"/>
<text x="1233.89" y="1829.57" text-anchor="middle" fill="#fff" style="font-family:'DejaVu Sans Condensed','DejaVu Sans',sans-serif;font-stretch:condensed;font-size:27.0px" textLength="69.53" lengthAdjust="spacingAndGlyphs">0.935</text>
<line x1="131.00" y1="2133.60" x2="1303.00" y2="2133.60" stroke="#000" stroke-width="1.3" stroke-linecap="butt"/>
<line x1="1072.70" y1="2133.60" x2="1157.49" y2="2133.60" stroke="#000" stroke-width="1.6" stroke-linecap="butt"/>
<rect x="140.00" y="2096.64" width="84.79" height="36.96" fill="#7FFFD4" stroke="#000" stroke-width="1.3"/>
<text x="182.40" y="2124.96" text-anchor="middle" fill="#000" style="font-family:'DejaVu Sans Condensed','DejaVu Sans',sans-serif;font-stretch:condensed;font-size:27.0px" textLength="69.53" lengthAdjust="spacingAndGlyphs">0.016</text>
<rect x="233.27" y="2071.23" width="84.79" height="62.37" fill="#7FFFD4" stroke="#000" stroke-width="1.3"/>
<text x="275.66" y="2112.26" text-anchor="middle" fill="#000" style="font-family:'DejaVu Sans Condensed','DejaVu Sans',sans-serif;font-stretch:condensed;font-size:27.0px" textLength="69.53" lengthAdjust="spacingAndGlyphs">0.027</text>
<rect x="326.54" y="2034.27" width="84.79" height="99.33" fill="#7FFFD4" stroke="#000" stroke-width="1.3"/>
<text x="368.93" y="2093.78" text-anchor="middle" fill="#000" style="font-family:'DejaVu Sans Condensed','DejaVu Sans',sans-serif;font-stretch:condensed;font-size:27.0px" textLength="69.53" lengthAdjust="spacingAndGlyphs">0.043</text>
<rect x="419.81" y="2045.82" width="84.79" height="87.78" fill="#7FFFD4" stroke="#000" stroke-width="1.3"/>
<text x="462.20" y="2099.55" text-anchor="middle" fill="#000" style="font-family:'DejaVu Sans Condensed','DejaVu Sans',sans-serif;font-stretch:condensed;font-size:27.0px" textLength="69.53" lengthAdjust="spacingAndGlyphs">0.038</text>
<rect x="513.08" y="2064.30" width="84.79" height="69.30" fill="#7FFFD4" stroke="#000" stroke-width="1.3"/>
<text x="555.47" y="2108.79" text-anchor="middle" fill="#000" style="font-family:'DejaVu Sans Condensed','DejaVu Sans',sans-serif;font-stretch:condensed;font-size:27.0px" textLength="69.53" lengthAdjust="spacingAndGlyphs">0.030</text>
<rect x="606.35" y="2059.68" width="84.79" height="73.92" fill="#7FFFD4" stroke="#000" stroke-width="1.3"/>
<text x="648.74" y="2106.48" text-anchor="middle" fill="#000" style="font-family:'DejaVu Sans Condensed','DejaVu Sans',sans-serif;font-stretch:condensed;font-size:27.0px" textLength="69.53" lengthAdjust="spacingAndGlyphs">0.032</text>
<rect x="699.62" y="2004.24" width="84.79" height="129.36" fill="#7FFFD4" stroke="#000" stroke-width="1.3"/>
<text x="742.01" y="2078.76" text-anchor="middle" fill="#000" style="font-family:'DejaVu Sans Condensed','DejaVu Sans',sans-serif;font-stretch:condensed;font-size:27.0px" textLength="69.53" lengthAdjust="spacingAndGlyphs">0.056</text>
<rect x="792.89" y="2027.34" width="84.79" height="106.26" fill="#7FFFD4" stroke="#000" stroke-width="1.3"/>
<text x="835.28" y="2090.31" text-anchor="middle" fill="#000" style="font-family:'DejaVu Sans Condensed','DejaVu Sans',sans-serif;font-stretch:condensed;font-size:27.0px" textLength="69.53" lengthAdjust="spacingAndGlyphs">0.046</text>
<rect x="886.16" y="2001.93" width="84.79" height="131.67" fill="#7FFFD4" stroke="#000" stroke-width="1.3"/>
<text x="928.55" y="2077.61" text-anchor="middle" fill="#000" style="font-family:'DejaVu Sans Condensed','DejaVu Sans',sans-serif;font-stretch:condensed;font-size:27.0px" textLength="69.53" lengthAdjust="spacingAndGlyphs">0.057</text>
<rect x="979.43" y="2048.13" width="84.79" height="85.47" fill="#7FFFD4" stroke="#000" stroke-width="1.3"/>
<text x="1021.82" y="2100.71" text-anchor="middle" fill="#000" style="font-family:'DejaVu Sans Condensed','DejaVu Sans',sans-serif;font-stretch:condensed;font-size:27.0px" textLength="69.53" lengthAdjust="spacingAndGlyphs">0.037</text>
<rect x="1191.50" y="2045.82" width="84.79" height="87.78" fill="#089A80" stroke="#000" stroke-width="1.3"/>
<text x="1233.89" y="2099.55" text-anchor="middle" fill="#fff" style="font-family:'DejaVu Sans Condensed','DejaVu Sans',sans-serif;font-stretch:condensed;font-size:27.0px" textLength="69.53" lengthAdjust="spacingAndGlyphs">0.038</text>
<path d="M97.3,775.6 H81.2 V1434.1 H97.3" fill="none" stroke="#000" stroke-width="3" stroke-linecap="round" stroke-linejoin="miter"/>
<path d="M97.3,1462 H81.2 V2133.9 H97.3" fill="none" stroke="#000" stroke-width="3" stroke-linecap="round" stroke-linejoin="miter"/>
<text id="terms1" transform="translate(65.70,1343.89) rotate(-90) scale(1,1)" x="0" y="0" fill="#000" style="font-family:'DejaVu Sans Condensed','DejaVu Sans',sans-serif;font-stretch:condensed;font-size:37.0px;font-weight:normal" textLength="441.84" lengthAdjust="spacingAndGlyphs">Terms contributing to ΔC<tspan dy="6" style="font-size:25px">V</tspan></text>
<text id="terms2" transform="translate(65.70,2047.41) rotate(-90) scale(1,1)" x="0" y="0" fill="#000" style="font-family:'DejaVu Sans Condensed','DejaVu Sans',sans-serif;font-stretch:condensed;font-size:37.0px;font-weight:normal" textLength="438.58" lengthAdjust="spacingAndGlyphs">Terms contributing to ΔC<tspan dy="6" style="font-size:25px">S</tspan></text>
<text id="p2tau" transform="translate(739.49,804.89) scale(1,0.9899)" x="0" y="0" style="font-family:'DejaVu Serif',serif;font-size:34px;font-weight:normal" textLength="20.62" lengthAdjust="spacingAndGlyphs">τ</text>
<text id="p2sub" transform="translate(759.40,811.33) scale(1,0.8966)" x="0" y="0" style="font-family:'DejaVu Sans Condensed','DejaVu Sans',sans-serif;font-stretch:condensed;font-size:25.5px;font-weight:normal" textLength="57.52" lengthAdjust="spacingAndGlyphs">vegΔ</text>
<text id="p2lp" transform="translate(815.38,806.61) scale(1,1.1692)" x="0" y="0" style="font-family:'DejaVu Sans',sans-serif;font-size:50px;font-weight:200" textLength="20.40" lengthAdjust="spacingAndGlyphs">(</text>
<text id="p2yr" transform="translate(834.00,803.66) scale(1,0.9251)" x="0" y="0" style="font-family:'Liberation Sans',Arial,sans-serif;font-size:42.6px;font-weight:normal" textLength="32.84" lengthAdjust="spacingAndGlyphs">yr</text>
<text id="p2rp" transform="translate(864.04,806.61) scale(1,1.1692)" x="0" y="0" style="font-family:'DejaVu Sans',sans-serif;font-size:50px;font-weight:200" textLength="20.82" lengthAdjust="spacingAndGlyphs">)</text>
<text id="p3a" transform="translate(181.95,1033.00) scale(1,1)" x="0" y="0" fill="#000" style="font-family:'DejaVu Sans Condensed','DejaVu Sans',sans-serif;font-stretch:condensed;font-size:37px;font-weight:normal" textLength="66.53" lengthAdjust="spacingAndGlyphs">CUE</text>
<text id="p3b" transform="translate(251.85,1039.84) scale(1,0.9516)" x="0" y="0" style="font-family:'DejaVu Sans Condensed','DejaVu Sans',sans-serif;font-stretch:condensed;font-size:22px;font-weight:normal" textLength="14.69" lengthAdjust="spacingAndGlyphs">Δ</text>
<text id="p3c" transform="translate(278.95,1033.00) scale(1,1)" x="0" y="0" fill="#000" style="font-family:'DejaVu Sans Condensed','DejaVu Sans',sans-serif;font-stretch:condensed;font-size:37px;font-weight:normal" textLength="164.09" lengthAdjust="spacingAndGlyphs">(fraction)</text>
<text id="p4a" transform="translate(370.00,1247.50) scale(1,1)" x="0" y="0" fill="#000" style="font-family:'DejaVu Sans Condensed','DejaVu Sans',sans-serif;font-stretch:condensed;font-size:37px;font-weight:normal" textLength="235.98" lengthAdjust="spacingAndGlyphs">ΔGPP/c' (Pg C</text>
<text id="p4b" transform="translate(627.31,1247.50) scale(1,1)" x="0" y="0" fill="#000" style="font-family:'DejaVu Sans Condensed','DejaVu Sans',sans-serif;font-stretch:condensed;font-size:37px;font-weight:normal" textLength="32.97" lengthAdjust="spacingAndGlyphs">yr</text>
<text id="p4c" transform="translate(661.79,1228.00) scale(1,1.0016)" x="0" y="0" style="font-family:'Liberation Sans',Arial,sans-serif;font-size:17.5px;font-weight:normal" textLength="7.62" lengthAdjust="spacingAndGlyphs">1</text>
<text id="p4d" transform="translate(675.69,1247.50) scale(1,1)" x="0" y="0" fill="#000" style="font-family:'DejaVu Sans Condensed','DejaVu Sans',sans-serif;font-stretch:condensed;font-size:37px;font-weight:normal" textLength="74.49" lengthAdjust="spacingAndGlyphs">ppm</text>
<text id="p4e" transform="translate(752.28,1228.00) scale(1,1.0016)" x="0" y="0" style="font-family:'Liberation Sans',Arial,sans-serif;font-size:17.5px;font-weight:normal" textLength="13.27" lengthAdjust="spacingAndGlyphs">-1</text>
<text id="p4f" transform="translate(775.40,1247.50) scale(1,1)" x="0" y="0" fill="#000" style="font-family:'DejaVu Sans Condensed','DejaVu Sans',sans-serif;font-stretch:condensed;font-size:37px;font-weight:normal" textLength="13.99" lengthAdjust="spacingAndGlyphs">)</text>
<text id="p5tau" transform="translate(366.53,1544.43) scale(1,0.9899)" x="0" y="0" style="font-family:'DejaVu Serif',serif;font-size:34px;font-weight:normal" textLength="19.94" lengthAdjust="spacingAndGlyphs">τ</text>
<text id="p5sub" transform="translate(385.33,1552.23) scale(1,0.9075)" x="0" y="0" style="font-family:'DejaVu Sans Condensed','DejaVu Sans',sans-serif;font-stretch:condensed;font-size:25.5px;font-weight:normal" textLength="58.32" lengthAdjust="spacingAndGlyphs">soilΔ</text>
<text id="p5lp" transform="translate(442.40,1547.24) scale(1,1.1381)" x="0" y="0" style="font-family:'DejaVu Sans',sans-serif;font-size:50px;font-weight:200" textLength="19.50" lengthAdjust="spacingAndGlyphs">(</text>
<text id="p5yr" transform="translate(458.86,1544.96) scale(1,0.9375)" x="0" y="0" style="font-family:'Liberation Sans',Arial,sans-serif;font-size:42.6px;font-weight:normal" textLength="34.11" lengthAdjust="spacingAndGlyphs">yr</text>
<text id="p5rp" transform="translate(490.58,1547.24) scale(1,1.1381)" x="0" y="0" style="font-family:'DejaVu Sans',sans-serif;font-size:50px;font-weight:200" textLength="19.56" lengthAdjust="spacingAndGlyphs">)</text>
<text id="p6a" transform="translate(649.70,1725.50) scale(1,1)" x="0" y="0" fill="#000" style="font-family:'DejaVu Sans Condensed','DejaVu Sans',sans-serif;font-stretch:condensed;font-size:37px;font-weight:normal" textLength="46.71" lengthAdjust="spacingAndGlyphs">ΔR</text>
<text id="p6b" transform="translate(694.62,1732.51) scale(1,0.9481)" x="0" y="0" style="font-family:'DejaVu Sans Condensed','DejaVu Sans',sans-serif;font-stretch:condensed;font-size:25px;font-weight:normal" textLength="15.86" lengthAdjust="spacingAndGlyphs">h</text>
<text id="p6c" transform="translate(713.31,1725.50) scale(1,1)" x="0" y="0" fill="#000" style="font-family:'DejaVu Sans Condensed','DejaVu Sans',sans-serif;font-stretch:condensed;font-size:37px;font-weight:normal" textLength="256.89" lengthAdjust="spacingAndGlyphs">/ΔLF (fraction)</text>
<text id="p7a" transform="translate(183.31,1971.10) scale(1,1)" x="0" y="0" fill="#000" style="font-family:'DejaVu Sans Condensed','DejaVu Sans',sans-serif;font-stretch:condensed;font-size:37px;font-weight:normal" textLength="207.33" lengthAdjust="spacingAndGlyphs">ΔLF/c' (Pg C</text>
<text id="p7b" transform="translate(411.30,1971.10) scale(1,1)" x="0" y="0" fill="#000" style="font-family:'DejaVu Sans Condensed','DejaVu Sans',sans-serif;font-stretch:condensed;font-size:37px;font-weight:normal" textLength="33.17" lengthAdjust="spacingAndGlyphs">yr</text>
<text id="p7c" transform="translate(446.11,1951.83) scale(1,1.0016)" x="0" y="0" style="font-family:'Liberation Sans',Arial,sans-serif;font-size:17.5px;font-weight:normal" textLength="6.13" lengthAdjust="spacingAndGlyphs">1</text>
<text id="p7d" transform="translate(459.68,1971.10) scale(1,1)" x="0" y="0" fill="#000" style="font-family:'DejaVu Sans Condensed','DejaVu Sans',sans-serif;font-stretch:condensed;font-size:37px;font-weight:normal" textLength="74.92" lengthAdjust="spacingAndGlyphs">ppm</text>
<text id="p7e" transform="translate(535.65,1951.83) scale(1,1.0016)" x="0" y="0" style="font-family:'Liberation Sans',Arial,sans-serif;font-size:17.5px;font-weight:normal" textLength="14.24" lengthAdjust="spacingAndGlyphs">-1</text>
<text id="p7f" transform="translate(559.37,1971.10) scale(1,1)" x="0" y="0" fill="#000" style="font-family:'DejaVu Sans Condensed','DejaVu Sans',sans-serif;font-stretch:condensed;font-size:37px;font-weight:normal" textLength="15.61" lengthAdjust="spacingAndGlyphs">)</text>
</svg></body></html>
